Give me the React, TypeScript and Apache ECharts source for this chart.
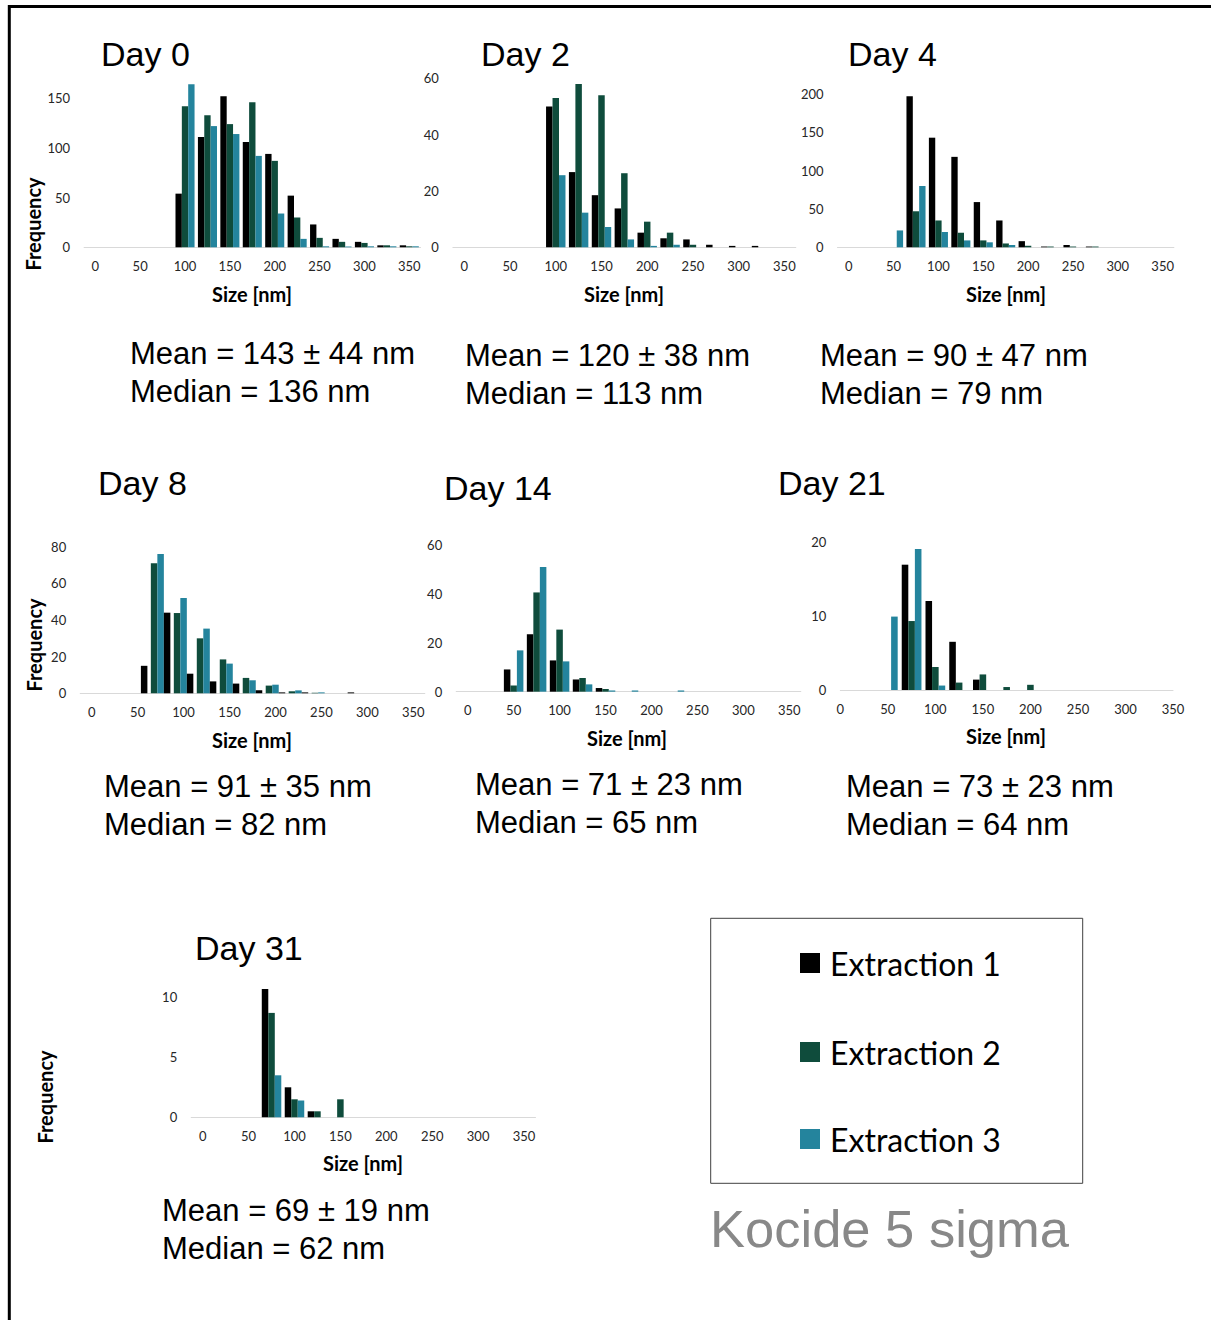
import React, { useEffect, useRef } from "react";
import * as echarts from "echarts";

// ---------- data ----------
const sizeBins = ["0", "25", "50", "75", "100", "125", "150", "175", "200", "225", "250", "275", "300", "325", "350"];
const seriesNames = ["Extraction 1", "Extraction 2", "Extraction 3"];
const seriesColors = ["#000000", "#0f4c3c", "#24849d"];

const day0E1 = [0, 0, 0, 0, 54, 111, 152, 106, 94, 52, 23, 8.5, 5.5, 2, 2];
const day0E2 = [0, 0, 0, 0, 142, 133, 124, 146, 87, 30, 9.5, 5.5, 4.4, 2, 1];
const day0E3 = [0, 0, 0, 0, 164, 122, 114, 92, 34, 8.5, 1, 0.8, 1, 1, 1];

const day2E1 = [0, 0, 0, 0, 50, 26.7, 18.5, 13.8, 5.2, 3.2, 2.8, 0.9, 0.5, 0.5, 0];
const day2E2 = [0, 0, 0, 0, 53, 58, 54, 26.3, 9.1, 5.2, 0.9, 0, 0, 0, 0];
const day2E3 = [0, 0, 0, 0, 25.6, 12.3, 7.2, 2.8, 0.5, 0.9, 0, 0, 0, 0, 0];

const day4E1 = [0, 0, 0, 197, 143, 118, 59, 35, 8, 1, 3, 1, 0, 0, 0];
const day4E2 = [0, 0, 0, 47, 35, 19, 9, 5, 2, 1, 1, 1, 0, 0, 0];
const day4E3 = [0, 0, 22, 80, 20, 9, 6.5, 3, 0, 0, 0, 0, 0, 0, 0];

const day8E1 = [0, 0, 15, 44, 10.7, 6.5, 5.3, 1.6, 0.5, 0.5, 0, 0.5, 0, 0, 0];
const day8E2 = [0, 0, 0, 71, 43.8, 30, 18.5, 8.4, 4.2, 1.1, 0.3, 0, 0, 0, 0];
const day8E3 = [0, 0, 0, 76, 52, 35.3, 16.2, 7.1, 4.7, 1.6, 0.5, 0, 0, 0, 0];

const day14E1 = [0, 0, 9.1, 23.5, 12.8, 5, 1.5, 0, 0, 0, 0, 0, 0, 0, 0];
const day14E2 = [0, 0, 2.5, 40.6, 25.4, 5.6, 1.1, 0, 0, 0, 0, 0, 0, 0, 0];
const day14E3 = [0, 0, 16.9, 51, 12.4, 3, 0.5, 0.5, 0, 0.5, 0, 0, 0, 0, 0];

const day21E1 = [0, 0, 0, 16.9, 12, 6.5, 1.4, 0, 0, 0, 0, 0, 0, 0, 0];
const day21E2 = [0, 0, 0, 9.3, 3.1, 1.0, 2.1, 0.4, 0.7, 0, 0, 0, 0, 0, 0];
const day21E3 = [0, 0, 9.9, 19, 0.6, 0, 0, 0, 0, 0, 0, 0, 0, 0, 0];

const day31E1 = [0, 0, 0, 10.7, 2.5, 0.5, 0, 0, 0, 0, 0, 0, 0, 0, 0];
const day31E2 = [0, 0, 0, 8.7, 1.5, 0.5, 1.5, 0, 0, 0, 0, 0, 0, 0, 0];
const day31E3 = [0, 0, 0, 3.5, 1.4, 0, 0, 0, 0, 0, 0, 0, 0, 0, 0];

const dayTitles = ["Day 0", "Day 2", "Day 4", "Day 8", "Day 14", "Day 21", "Day 31"];
const meanTexts = [
  "Mean = 143 ± 44 nm",
  "Mean = 120 ± 38 nm",
  "Mean = 90 ± 47 nm",
  "Mean = 91 ± 35 nm",
  "Mean = 71 ± 23 nm",
  "Mean = 73 ± 23 nm",
  "Mean = 69 ± 19 nm",
];
const medianTexts = [
  "Median = 136 nm",
  "Median = 113 nm",
  "Median = 79 nm",
  "Median = 82 nm",
  "Median = 65 nm",
  "Median = 64 nm",
  "Median = 62 nm",
];
const yMax = [170, 60, 200, 80, 60, 20, 12];
const yInterval = [50, 20, 50, 20, 20, 10, 5];
const xAxisName = "Size [nm]";
const yAxisName = "Frequency";
const footerText = "Kocide 5 sigma";

// ---------- layout ----------
const panelData = [
  [day0E1, day0E2, day0E3],
  [day2E1, day2E2, day2E3],
  [day4E1, day4E2, day4E3],
  [day8E1, day8E2, day8E3],
  [day14E1, day14E2, day14E3],
  [day21E1, day21E2, day21E3],
  [day31E1, day31E2, day31E3],
];
const panelOrder = [
  [0, 1, 2],
  [0, 1, 2],
  [0, 1, 2],
  [1, 2, 0],
  [0, 1, 2],
  [0, 1, 2],
  [0, 1, 2],
];
// left, top, width, height
const gridBoxes = [
  [84.1, 78.4, 336.4, 168.9],
  [452.9, 78.3, 342.9, 169],
  [837.5, 94, 336.4, 153.3],
  [80.2, 546.7, 344.6, 146.6],
  [456.2, 545, 344.6, 146.7],
  [840.3, 541.7, 332.7, 148.3],
  [191.2, 973.3, 344.3, 144],
];
const onBand = [true, true, true, true, true, false, true];
const catGap = ["15%", "15%", "15%", "15%", "15%", "17%", "15%"];
const titlePos = [
  [101, 54],
  [481, 54],
  [848, 54],
  [98, 483],
  [444, 488],
  [778, 483],
  [195, 948],
];
const statsPos = [
  [130, 353],
  [465, 355],
  [820, 355],
  [104, 786],
  [475, 784],
  [846, 786],
  [162, 1210],
];
const xNamePos = [
  [252, 294],
  [624, 294],
  [1006, 294],
  [252, 740],
  [627, 738],
  [1006, 736],
  [363, 1163],
];
const yNamePos = [
  [33, 224],
  [34, 645],
  [45, 1097],
];

const CAL = "Lato, 'Open Sans', sans-serif";
const ARIAL = "'Liberation Sans', Arial, sans-serif";

function txt(x: number, y: number, text: string, opts: any = {}) {
  const align = opts.align || "left";
  return {
    type: "text",
    x,
    y,
    rotation: opts.rotation || 0,
    silent: true,
    style: {
      text,
      fontSize: opts.fontSize || 14,
      fontFamily: opts.fontFamily || ARIAL,
      fontWeight: opts.fontWeight || "normal",
      fill: opts.fill || "#000",
      align,
      textAlign: align,
      verticalAlign: "middle",
      textVerticalAlign: "middle",
    },
  };
}

export default function App() {
  const ref = useRef<HTMLDivElement>(null);

  useEffect(() => {
    if (!ref.current) return;
    const chart = echarts.init(ref.current, undefined, { renderer: "svg" });

    const graphic: any[] = [];
    // outer frame (top and left)
    graphic.push({ type: "line", silent: true, shape: { x1: 8, y1: 6.5, x2: 1211, y2: 6.5 }, style: { stroke: "#000", lineWidth: 3 } });
    graphic.push({ type: "line", silent: true, shape: { x1: 9.3, y1: 5, x2: 9.3, y2: 1320 }, style: { stroke: "#000", lineWidth: 3 } });

    dayTitles.forEach((t, i) => {
      graphic.push(txt(titlePos[i][0], titlePos[i][1], t, { fontSize: 34 }));
      graphic.push(txt(statsPos[i][0], statsPos[i][1], meanTexts[i], { fontSize: 31 }));
      graphic.push(txt(statsPos[i][0], statsPos[i][1] + 38, medianTexts[i], { fontSize: 31 }));
      graphic.push(
        txt(xNamePos[i][0], xNamePos[i][1], xAxisName, { fontSize: 20, fontFamily: CAL, fontWeight: "bold", align: "center" })
      );
    });
    yNamePos.forEach((p) => {
      graphic.push(
        txt(p[0], p[1], yAxisName, { fontSize: 20, fontFamily: CAL, fontWeight: "bold", align: "center", rotation: Math.PI / 2 })
      );
    });

    // legend box
    graphic.push({
      type: "rect",
      silent: true,
      shape: { x: 710.7, y: 918.3, width: 372, height: 265 },
      style: { fill: "none", stroke: "#404040", lineWidth: 1 },
    });
    const legendY = [963, 1052, 1139];
    seriesNames.forEach((n, k) => {
      graphic.push({
        type: "rect",
        silent: true,
        shape: { x: 800, y: legendY[k] - 10, width: 20, height: 20 },
        style: { fill: seriesColors[k] },
      });
      graphic.push(txt(830, legendY[k], n, { fontSize: 32, fontFamily: CAL }));
    });
    graphic.push(txt(710, 1228, footerText, { fontSize: 52.5, fill: "#888888" }));

    const option: any = {
      animation: false,
      grid: gridBoxes.map((g) => ({ left: g[0], top: g[1], width: g[2], height: g[3], containLabel: false })),
      xAxis: gridBoxes.map((_, i) => ({
        type: "category",
        gridIndex: i,
        data: sizeBins,
        boundaryGap: onBand[i],
        axisTick: { show: false },
        axisLine: { show: true, lineStyle: { color: "#d9d9d9", width: 1 } },
        axisLabel: { interval: 1, fontFamily: CAL, fontSize: 13, color: "#262626", margin: 12 },
        splitLine: { show: false },
      })),
      yAxis: gridBoxes.map((_, i) => ({
        type: "value",
        gridIndex: i,
        min: 0,
        max: yMax[i],
        interval: yInterval[i],
        axisLine: { show: false },
        axisTick: { show: false },
        splitLine: { show: false },
        axisLabel: {
          fontFamily: CAL,
          fontSize: 13,
          color: "#262626",
          margin: 14,
          formatter: (v: number) => (v % yInterval[i] === 0 ? String(v) : ""),
        },
      })),
      series: panelData.flatMap((data, i) =>
        panelOrder[i].map((k) => ({
          type: "bar",
          name: seriesNames[k],
          xAxisIndex: i,
          yAxisIndex: i,
          data: data[k],
          itemStyle: { color: seriesColors[k] },
          barGap: "0%",
          barCategoryGap: catGap[i],
          silent: true,
        }))
      ),
      graphic,
    };

    chart.setOption(option);
    return () => chart.dispose();
  }, []);

  return (
    <div
      ref={ref}
      style={{ position: "absolute", left: 0, top: 0, width: 1211, height: 1320, background: "#fff" }}
    />
  );
}
